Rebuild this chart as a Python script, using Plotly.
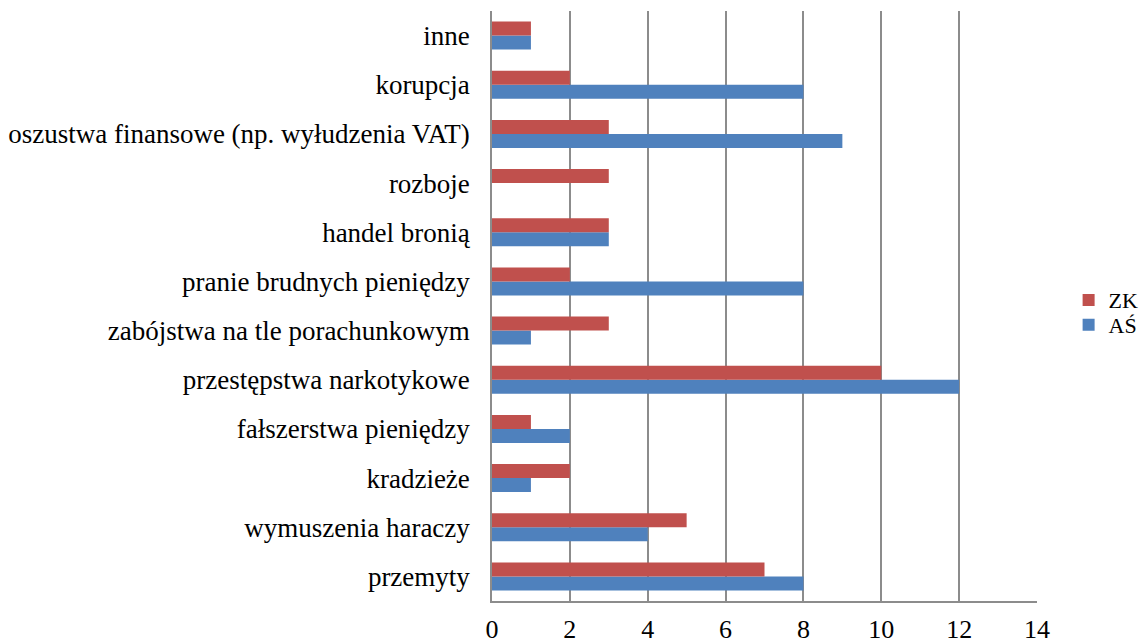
import plotly.graph_objects as go

categories = ["przemyty", "wymuszenia haraczy", "kradzieże", "fałszerstwa pieniędzy",
              "przestępstwa narkotykowe", "zabójstwa na tle porachunkowym",
              "pranie brudnych pieniędzy", "handel bronią", "rozboje",
              "oszustwa finansowe (np. wyłudzenia VAT)", "korupcja", "inne"]
zk = [7, 5, 2, 1, 10, 3, 2, 3, 3, 3, 2, 1]
as_ = [8, 4, 1, 2, 12, 1, 8, 3, 0, 9, 8, 1]
x_ticks = [0, 2, 4, 6, 8, 10, 12, 14]

family = "Liberation Serif, Times New Roman, serif"
xfont = dict(family=family, size=26, color="#000000")
yfont = dict(family=family, size=27, color="#000000")
lfont = dict(family=family, size=22, color="#000000")

fig = go.Figure()
fig.add_trace(go.Bar(y=categories, x=as_, name="AŚ", orientation="h", legend="legend2",
                     marker=dict(color="#4F81BD", line=dict(width=0))))
fig.add_trace(go.Bar(y=categories, x=zk, name="ZK", orientation="h", legend="legend",
                     marker=dict(color="#C0504D", line=dict(width=0))))

legend_common = dict(x=1.058, xanchor="left", yanchor="middle", font=lfont,
                     itemwidth=30, bgcolor="rgba(0,0,0,0)")

# page body has an 8px margin: figure is 8px smaller and left/top margins shifted
fig.update_layout(
    width=1140, height=635,
    margin=dict(l=484, r=111, t=3, b=42, autoexpand=False),
    barmode="group", bargap=0.43, bargroupgap=0,
    plot_bgcolor="white", paper_bgcolor="white",
    font=xfont,
    showlegend=True,
    legend=dict(y=0.510, **legend_common),
    legend2=dict(y=0.468, **legend_common),
    xaxis=dict(range=[0, 14], tickvals=x_ticks, showgrid=True, gridcolor="#8C8C8C",
               gridwidth=1.5, showline=True, linecolor="#8C8C8C", linewidth=1.5,
               zeroline=False, ticks="", ticklabelstandoff=4, tickfont=xfont),
    yaxis=dict(categoryorder="array", categoryarray=categories, showline=True,
               linecolor="#8C8C8C", linewidth=1.5, ticks="", showgrid=False,
               ticklabelstandoff=15, tickfont=yfont),
)

fig.write_html("out.html")
